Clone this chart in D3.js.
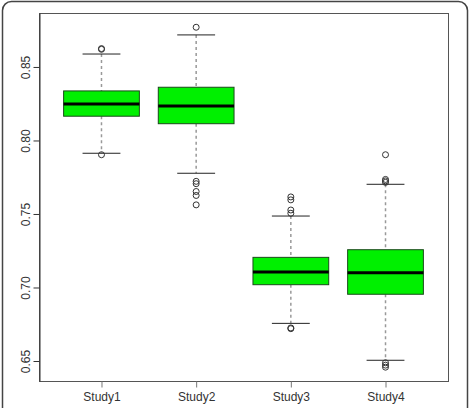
<!DOCTYPE html>
<html>
<head>
<meta charset="utf-8">
<script src="https://cdn.jsdelivr.net/npm/d3@7"></script>
<style>
  body { margin: 0; background: #fff; }
  svg { display: block; font-family: "Liberation Sans", Arial, sans-serif; }
</style>
</head>
<body>
<div id="chart"></div>
<script>
// box stats
const studies = ['Study1', 'Study2', 'Study3', 'Study4'];
const lowerWhisker = [0.7913, 0.7777, 0.6756, 0.6505];
const q1 = [0.8165, 0.8114, 0.7019, 0.6954];
const medians = [0.8248, 0.8235, 0.7105, 0.7101];
const q3 = [0.8337, 0.8362, 0.7205, 0.7257];
const upperWhisker = [0.8588, 0.8718, 0.7486, 0.7702];
const outliers = [
    [0.8625, 0.8620, 0.7903],
    [0.8770, 0.7722, 0.7706, 0.7653, 0.7626, 0.7562],
    [0.7616, 0.7596, 0.7527, 0.7505, 0.6725, 0.6720],
    [0.7903, 0.7735, 0.7725, 0.7715, 0.6488, 0.6472, 0.6458]
];
const yTicks = [0.65, 0.70, 0.75, 0.80, 0.85];

let width = 471;
let height = 408;
let plot = {left: 39, right: 448, top: 13, bottom: 381};

let svg = d3.select('#chart')
    .append('svg')
    .attr('width', width)
    .attr('height', height);

// outer rounded frame (runs off the bottom)
svg.append('rect')
    .attr('x', 2.5).attr('y', 1.5)
    .attr('width', 465).attr('height', 430)
    .attr('rx', 9)
    .attr('fill', 'none')
    .attr('stroke', '#444')
    .attr('stroke-width', 1.5);

var x = d3.scaleLinear()
    .domain([0.34, 4.66])
    .range([plot.left, plot.right]);

var y = d3.scaleLinear()
    .domain([0.6364, 0.8867])
    .range([plot.bottom, plot.top]);

let boxW = x(0.8) - x(0);
let stapleW = x(0.4) - x(0);

let g = svg.selectAll('g.study')
    .data(studies)
    .enter()
    .append('g')
    .attr('class', 'study');

// whiskers
g.append('line')
    .attr('x1', (d, i) => x(i + 1)).attr('x2', (d, i) => x(i + 1))
    .attr('y1', (d, i) => y(upperWhisker[i])).attr('y2', (d, i) => y(q3[i]))
    .attr('stroke', '#999').attr('stroke-width', 1.5).attr('stroke-dasharray', '3,3');
g.append('line')
    .attr('x1', (d, i) => x(i + 1)).attr('x2', (d, i) => x(i + 1))
    .attr('y1', (d, i) => y(q1[i])).attr('y2', (d, i) => y(lowerWhisker[i]))
    .attr('stroke', '#999').attr('stroke-width', 1.5).attr('stroke-dasharray', '3,3');

// staples
[upperWhisker, lowerWhisker].forEach(arr => {
    g.append('line')
        .attr('x1', (d, i) => x(i + 1) - stapleW / 2)
        .attr('x2', (d, i) => x(i + 1) + stapleW / 2)
        .attr('y1', (d, i) => y(arr[i])).attr('y2', (d, i) => y(arr[i]))
        .attr('stroke', '#222');
});

// boxes
g.append('rect')
    .attr('x', (d, i) => x(i + 1) - boxW / 2)
    .attr('y', (d, i) => y(q3[i]))
    .attr('width', boxW)
    .attr('height', (d, i) => y(q1[i]) - y(q3[i]))
    .attr('fill', '#00f000')
    .attr('stroke', '#1a4a1a');

// medians
g.append('line')
    .attr('x1', (d, i) => x(i + 1) - boxW / 2)
    .attr('x2', (d, i) => x(i + 1) + boxW / 2)
    .attr('y1', (d, i) => y(medians[i])).attr('y2', (d, i) => y(medians[i]))
    .attr('stroke', '#000').attr('stroke-width', 3);

// outlier circles
g.selectAll('circle')
    .data((d, i) => outliers[i].map(v => ({i: i, v: v})))
    .enter()
    .append('circle')
    .attr('cx', d => x(d.i + 1))
    .attr('cy', d => y(d.v))
    .attr('r', 3)
    .attr('fill', 'none')
    .attr('stroke', '#333');

// plot box
svg.append('rect')
    .attr('x', plot.left + 0.5).attr('y', plot.top + 0.5)
    .attr('width', plot.right - plot.left).attr('height', plot.bottom - plot.top)
    .attr('fill', 'none')
    .attr('stroke', '#555');

// y axis
let yAxis = svg.append('g')
    .attr('transform', 'translate(' + (plot.left + 0.5) + ',0)')
    .call(d3.axisLeft(y).tickValues(yTicks).tickFormat(d3.format('.2f')).tickSize(6).tickSizeOuter(0));
yAxis.select('.domain').attr('stroke', '#333');
yAxis.selectAll('.tick line').attr('stroke', '#333');
yAxis.selectAll('.tick text')
    .attr('font-size', 12)
    .attr('fill', '#333')
    .attr('text-anchor', 'middle')
    .attr('x', 0).attr('dy', 0)
    .attr('transform', 'translate(-10,0) rotate(-90)');

// x axis
let xAxis = svg.append('g')
    .attr('transform', 'translate(0,' + (plot.bottom + 0.5) + ')')
    .call(d3.axisBottom(x).tickValues([1, 2, 3, 4]).tickFormat((d, i) => studies[i]).tickSize(6).tickSizeOuter(0));
xAxis.select('.domain').remove();
xAxis.selectAll('.tick line').attr('stroke', '#777');
xAxis.selectAll('.tick text')
    .attr('font-size', 12)
    .attr('fill', '#333')
    .attr('y', 11).attr('dy', '0.71em');
</script>
</body>
</html>
